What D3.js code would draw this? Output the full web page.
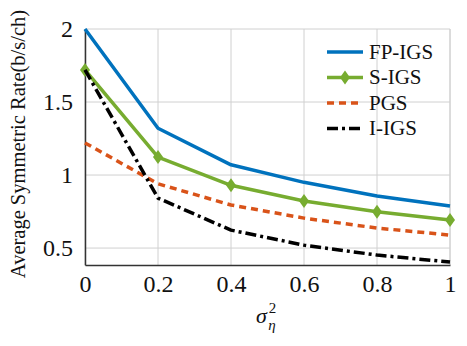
<!DOCTYPE html>
<html>
<head>
<meta charset="utf-8">
<script src="https://cdn.jsdelivr.net/npm/d3@7"></script>
<style>
  body { margin: 0; background: #fff; }
</style>
</head>
<body>
<div id="chart"></div>
<script>
// --- Data ---
var sigma = [0, 0.2, 0.4, 0.6, 0.8, 1];
var fpIgs = [2.0, 1.32, 1.07, 0.95, 0.856, 0.788];
var sIgs  = [1.72, 1.123, 0.93, 0.822, 0.749, 0.692];
var pgs   = [1.22, 0.94, 0.795, 0.705, 0.637, 0.589];
var iIgs  = [1.72, 0.842, 0.623, 0.52, 0.452, 0.404];
var xTicks = [0, 0.2, 0.4, 0.6, 0.8, 1];
var yTicks = [0.5, 1, 1.5, 2];

var series = [
  {name: "FP-IGS", values: fpIgs, color: "#0072BD", dash: null, marker: false},
  {name: "S-IGS", values: sIgs, color: "#77AC30", dash: null, marker: true},
  {name: "PGS", values: pgs, color: "#D95319", dash: "7,5", marker: false},
  {name: "I-IGS", values: iIgs, color: "#000000", dash: "11,4,3,4", marker: false}
];

var FONT = "Liberation Serif";

// --- Canvas ---
var W = 467, H = 346;
var margin = {top: 29, right: 17, bottom: 81, left: 85};
var width = W - margin.left - margin.right;
var height = H - margin.top - margin.bottom;

var svg = d3.select("#chart").append("svg")
    .attr("width", W)
    .attr("height", H)
    .attr("font-family", FONT);
var g = svg.append("g")
    .attr("transform", "translate(" + margin.left + "," + margin.top + ")");

// --- Scales ---
var x = d3.scaleLinear().domain([0, 1]).range([0, width]);
var y = d3.scaleLinear().domain([0.384, 2]).range([height, 0]);

// --- Grid ---
g.append("g").selectAll("line").data(xTicks).enter().append("line")
    .attr("x1", d => x(d)).attr("x2", d => x(d))
    .attr("y1", 0).attr("y2", height)
    .attr("stroke", "#d0d0d0").attr("stroke-width", 1);
g.append("g").selectAll("line").data(yTicks).enter().append("line")
    .attr("x1", 0).attr("x2", width)
    .attr("y1", d => y(d)).attr("y2", d => y(d))
    .attr("stroke", "#d0d0d0").attr("stroke-width", 1);
// right border (gray)
g.append("line")
    .attr("x1", width).attr("x2", width).attr("y1", 0).attr("y2", height)
    .attr("stroke", "#d0d0d0").attr("stroke-width", 1);

// --- Axes ---
var xAxis = d3.axisBottom(x).tickValues(xTicks).tickSize(0).tickPadding(10)
    .tickFormat(d => d === 0 || d === 1 ? d : d3.format(".1f")(d));
var yAxis = d3.axisLeft(y).tickValues(yTicks).tickSize(0).tickPadding(12)
    .tickFormat(d => d3.format("~g")(d));

var xg = g.append("g").attr("transform", "translate(0," + height + ")").call(xAxis);
var yg = g.append("g").call(yAxis);
[xg, yg].forEach(function(a) {
  a.attr("font-family", FONT).attr("font-size", 24);
  a.select(".domain").attr("stroke", "#333").attr("stroke-width", 1.5);
  a.selectAll("text").attr("fill", "#111").attr("font-family", FONT);
});
yg.selectAll("text").attr("dy", "0.33em");

// --- Lines ---
var line = d3.line()
    .x((d, i) => x(sigma[i]))
    .y(d => y(d));

series.forEach(function(s) {
  g.append("path")
    .datum(s.values)
    .attr("d", line)
    .attr("fill", "none")
    .attr("stroke", s.color)
    .attr("stroke-width", 3.5)
    .attr("stroke-dasharray", s.dash)
    .attr("stroke-linejoin", "round");
  if (s.marker) {
    g.selectAll(".m").data(s.values).enter().append("path")
      .attr("d", "M0,-7L5,0L0,7L-5,0Z")
      .attr("transform", (d, i) => "translate(" + x(sigma[i]) + "," + y(d) + ")")
      .attr("fill", s.color);
  }
});

// --- Legend ---
var legend = g.append("g").attr("transform", "translate(" + (327 - margin.left) + "," + (52 - margin.top) + ")");
series.forEach(function(s, i) {
  var row = legend.append("g").attr("transform", "translate(0," + (i * 25.5) + ")");
  row.append("line")
    .attr("x1", 0).attr("x2", 36).attr("y1", 0).attr("y2", 0)
    .attr("stroke", s.color).attr("stroke-width", 3.5)
    .attr("stroke-dasharray", s.dash);
  if (s.marker) {
    row.append("path").attr("d", "M0,-7L5,0L0,7L-5,0Z")
      .attr("transform", "translate(18,0)").attr("fill", s.color);
  }
  row.append("text")
    .attr("x", 42).attr("y", 0).attr("dy", "0.33em")
    .attr("font-size", 21).attr("font-family", FONT).attr("fill", "#111")
    .text(s.name);
});

// --- Labels ---
svg.append("text")
    .attr("transform", "translate(25,144) rotate(-90)")
    .attr("text-anchor", "middle")
    .attr("font-size", 20.5)
    .attr("font-family", FONT)
    .attr("fill", "#111")
    .text("Average Symmetric Rate(b/s/ch)");

var xl = svg.append("text")
    .attr("x", 256).attr("y", 323)
    .attr("font-size", 22)
    .attr("font-family", FONT)
    .attr("fill", "#111");
xl.append("tspan").attr("font-style", "italic").text("σ");
xl.append("tspan").attr("font-size", 15).attr("dy", -10).attr("dx", 2).text("2");
xl.append("tspan").attr("font-size", 15).attr("font-style", "italic").attr("dx", -8).attr("dy", 17).text("η");
</script>
</body>
</html>
